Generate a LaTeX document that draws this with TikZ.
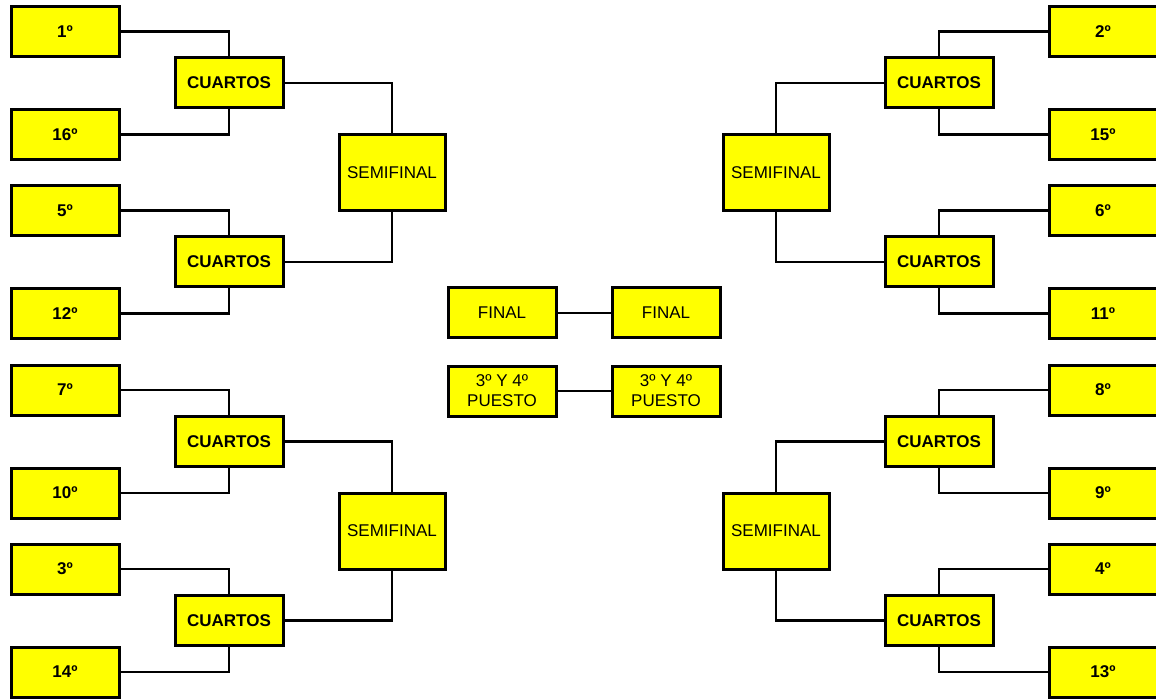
\documentclass[tikz,border=0pt]{standalone}
\usepackage{fontspec}
\setmainfont{Liberation Sans}
\usetikzlibrary{shapes,shapes.geometric,calc}
\definecolor{amarillo}{RGB}{255,255,0}

\begin{document}
\begin{tikzpicture}[x=1pt,y=-1pt]
			\tikzstyle{caja}=[rectangle, draw, line width=3pt, fill=amarillo, minimum width=108pt, minimum height=50pt, inner sep=0pt, font=\fontsize{17}{20}\selectfont]
			\tikzstyle{equipo}=[caja, font=\fontsize{17}{20}\selectfont\bfseries]
			\tikzstyle{semi}=[caja, minimum width=106pt, minimum height=76pt]
			\tikzstyle{edge from parent}=[draw, line width=2.5pt]
			\tikzstyle{level 1}=[sibling distance=179pt, level distance=163pt]
			\tikzstyle{level 2}=[sibling distance=103pt, level distance=164pt]
			\useasboundingbox (0,0) rectangle (1156,700);
			% lado izquierdo
			\node[semi] (semiA) at (392,172.5) {SEMIFINAL} [grow=left, edge from parent path={(\tikzparentnode) |- (\tikzchildnode)}]
				child {node[equipo] (cuartosA) {CUARTOS}
					child {node[equipo] {1º}}
					child {node[equipo] {16º}}
				}
				child {node[equipo] (cuartosB) {CUARTOS}
					child {node[equipo] {5º}}
					child {node[equipo] {12º}}
				};
			\node[semi] (semiB) at (392,531) {SEMIFINAL} [grow=left, edge from parent path={(\tikzparentnode) |- (\tikzchildnode)}]
				child {node[equipo] (cuartosC) {CUARTOS}
					child {node[equipo] {7º}}
					child {node[equipo] {10º}}
				}
				child {node[equipo] (cuartosD) {CUARTOS}
					child {node[equipo] {3º}}
					child {node[equipo] {14º}}
				};
			% lado derecho
			\node[semi] (semiC) at (776,172.5) {SEMIFINAL} [grow'=right, edge from parent path={(\tikzparentnode) |- (\tikzchildnode)}]
				child {node[equipo] (cuartosE) {CUARTOS}
					child {node[equipo] {2º}}
					child {node[equipo] {15º}}
				}
				child {node[equipo] (cuartosF) {CUARTOS}
					child {node[equipo] {6º}}
					child {node[equipo] {11º}}
				};
			\node[semi] (semiD) at (776,531) {SEMIFINAL} [grow'=right, edge from parent path={(\tikzparentnode) |- (\tikzchildnode)}]
				child {node[equipo] (cuartosG) {CUARTOS}
					child {node[equipo] {8º}}
					child {node[equipo] {9º}}
				}
				child {node[equipo] (cuartosH) {CUARTOS}
					child {node[equipo] {4º}}
					child {node[equipo] {13º}}
				};
			% final y tercer puesto
			\node[caja] (finalA) at (502,313) {FINAL};
			\node[caja] (finalB) at (666,313) {FINAL};
			\node[caja, align=center] (puestoA) at (502,391) {3º Y 4º\\PUESTO};
			\node[caja, align=center] (puestoB) at (666,391) {3º Y 4º\\PUESTO};
			\draw[line width=2.5pt] (finalA) -- (finalB);
			\draw[line width=2.5pt] (puestoA) -- (puestoB);
		\end{tikzpicture}
\end{document}
